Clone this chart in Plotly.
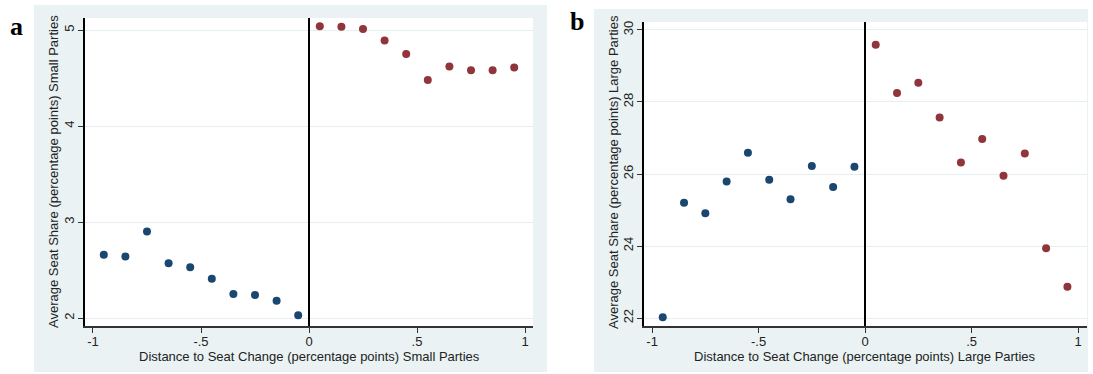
import plotly.graph_objects as go

# ---------------- data ----------------
bins_left = [-0.95, -0.85, -0.75, -0.65, -0.55, -0.45, -0.35, -0.25, -0.15, -0.05]
bins_right = [0.05, 0.15, 0.25, 0.35, 0.45, 0.55, 0.65, 0.75, 0.85, 0.95]

small_left = [2.66, 2.64, 2.90, 2.57, 2.53, 2.41, 2.25, 2.24, 2.18, 2.03]
small_right = [5.04, 5.035, 5.01, 4.89, 4.75, 4.48, 4.62, 4.58, 4.58, 4.61]

large_left = [22.02, 25.20, 24.91, 25.79, 26.59, 25.84, 25.30, 26.22, 25.64, 26.20]
large_right = [29.59, 28.25, 28.53, 27.57, 26.32, 26.97, 25.95, 26.57, 23.94, 22.87]

x_tickvals = [-1, -0.5, 0, 0.5, 1]
x_ticktext = ["-1", "-.5", "0", ".5", "1"]
ya_tickvals = [2, 3, 4, 5]
yb_tickvals = [22, 24, 26, 28, 30]

x_title_a = "Distance to Seat Change (percentage points) Small Parties"
x_title_b = "Distance to Seat Change (percentage points) Large Parties"
y_title_a = "Average Seat Share (percentage points) Small Parties"
y_title_b = "Average Seat Share (percentage points) Large Parties"

# ---------------- style ----------------
W, H = 1093, 374
BLUE = "#1a476f"
RED = "#90353b"
BG = "#eaf2f3"
GRID = "#e6eef0"
FONT = "Liberation Sans, Arial, sans-serif"
TXT = "#222222"

A_L, A_R, A_T, A_B = 85, 533, 18, 326
B_L, B_R, B_T, B_B = 644, 1087, 22, 326


def px(x):
    return x / W


def py(y):
    return 1 - y / H


fig = go.Figure()

fig.add_trace(go.Scatter(x=bins_left, y=small_left, mode="markers",
                         marker=dict(color=BLUE, size=8), xaxis="x", yaxis="y"))
fig.add_trace(go.Scatter(x=bins_right, y=small_right, mode="markers",
                         marker=dict(color=RED, size=8), xaxis="x", yaxis="y"))
fig.add_trace(go.Scatter(x=bins_left, y=large_left, mode="markers",
                         marker=dict(color=BLUE, size=8), xaxis="x2", yaxis="y2"))
fig.add_trace(go.Scatter(x=bins_right, y=large_right, mode="markers",
                         marker=dict(color=RED, size=8), xaxis="x2", yaxis="y2"))

common_x = dict(
    tickvals=x_tickvals, ticktext=x_ticktext,
    showgrid=False, zeroline=True, zerolinecolor="black", zerolinewidth=1.5,
    showline=True, linecolor="#333333", linewidth=1.5,
    ticks="outside", ticklen=5, tickcolor="#333333", tickwidth=1,
    ticklabelstandoff=-2,
    tickfont=dict(family=FONT, size=13, color=TXT),
    fixedrange=True, automargin=False,
)
common_y = dict(
    showgrid=True, gridcolor=GRID, gridwidth=1, zeroline=False,
    showline=True, linecolor="black", linewidth=1.5,
    ticks="outside", ticklen=5, tickcolor="#333333", tickwidth=1,
    tickangle=-90, ticklabelstandoff=-1,
    tickfont=dict(family=FONT, size=13, color=TXT),
    fixedrange=True, automargin=False,
)


def title_ann(text, x, y, angle=0):
    return dict(text=text, xref="paper", yref="paper", x=px(x), y=py(y),
                showarrow=False, xanchor="center", yanchor="middle", textangle=angle,
                font=dict(family=FONT, size=13, color=TXT))


fig.update_layout(
    width=W, height=H,
    margin=dict(l=0, r=0, t=0, b=0, autoexpand=False),
    paper_bgcolor="white", plot_bgcolor="white",
    showlegend=False,
    xaxis=dict(domain=[px(A_L), px(A_R)], range=[-1.037, 1.037], anchor="y", **common_x),
    yaxis=dict(domain=[py(A_B), py(A_T)], range=[1.917, 5.125],
               anchor="x", tickvals=ya_tickvals, **common_y),
    xaxis2=dict(domain=[px(B_L), px(B_R)], range=[-1.038, 1.042], anchor="y2", **common_x),
    yaxis2=dict(domain=[py(B_B), py(B_T)], range=[21.78, 30.22],
                anchor="x2", tickvals=yb_tickvals, **common_y),
    shapes=[
        dict(type="rect", xref="paper", yref="paper", layer="below",
             x0=px(34), x1=px(547), y0=py(372), y1=py(5),
             fillcolor=BG, line=dict(width=0)),
        dict(type="rect", xref="paper", yref="paper", layer="below",
             x0=px(594), x1=px(1088), y0=py(372), y1=py(9),
             fillcolor=BG, line=dict(width=0)),
        dict(type="rect", xref="paper", yref="paper", layer="below",
             x0=px(A_L), x1=px(A_R), y0=py(A_B), y1=py(A_T),
             fillcolor="white", line=dict(width=0)),
        dict(type="rect", xref="paper", yref="paper", layer="below",
             x0=px(B_L), x1=px(B_R), y0=py(B_B), y1=py(B_T),
             fillcolor="white", line=dict(width=0)),
    ],
    annotations=[
        dict(text="<b>a</b>", xref="paper", yref="paper", x=px(16), y=py(27),
             showarrow=False, xanchor="center", yanchor="middle",
             font=dict(family="Liberation Serif, Times New Roman, serif", size=26, color="black")),
        dict(text="<b>b</b>", xref="paper", yref="paper", x=px(577), y=py(21),
             showarrow=False, xanchor="center", yanchor="middle",
             font=dict(family="Liberation Serif, Times New Roman, serif", size=26, color="black")),
        title_ann(x_title_a, 309, 356),
        title_ann(x_title_b, 865, 356),
        title_ann(y_title_a, 53, 172, -90),
        title_ann(y_title_b, 613, 172, -90),
    ],
)

fig.write_html(
    "out.html",
    config={"displayModeBar": False},
    post_script="document.body.style.margin='0px';document.body.style.overflow='hidden';",
)
